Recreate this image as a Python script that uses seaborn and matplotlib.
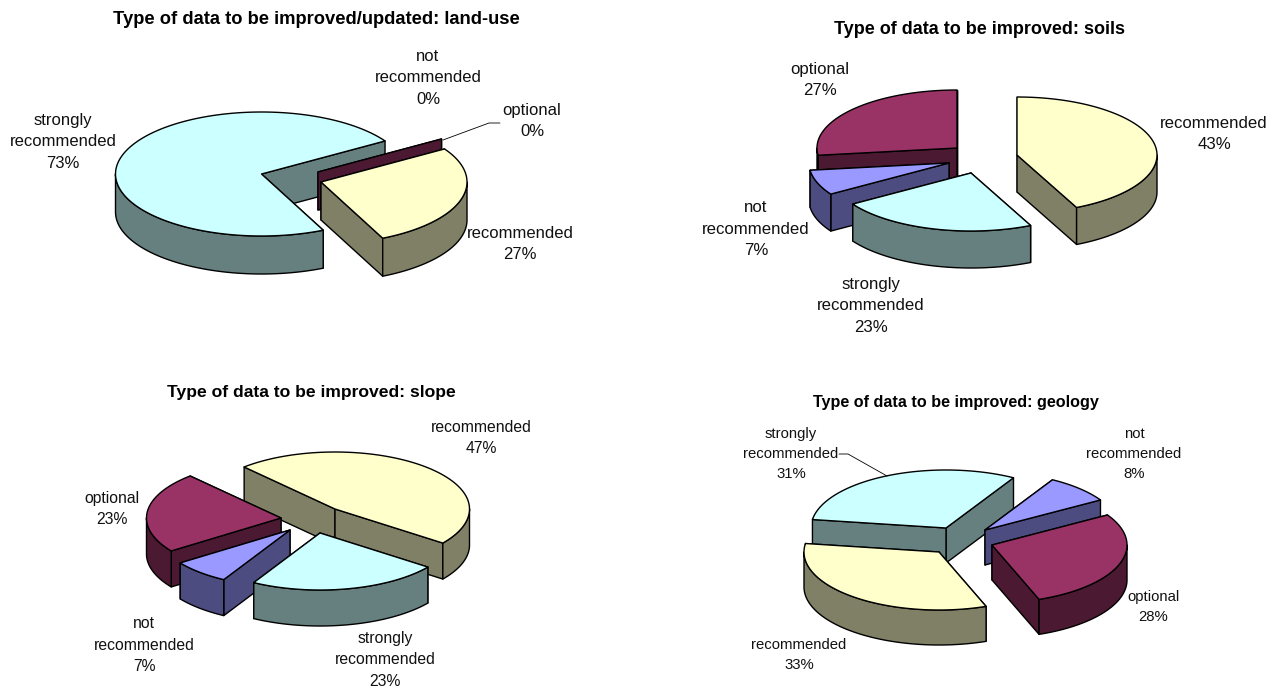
import numpy as np
import matplotlib
matplotlib.use("Agg")
import matplotlib.pyplot as plt
import seaborn as sns

sns.set_theme(style="white")
plt.rcParams["font.family"] = ["Liberation Sans", "DejaVu Sans"]

# Survey shares in percent, per data layer
categories = ["recommended", "strongly recommended", "not recommended", "optional"]
landuse_values = [27, 73, 0, 0]
soils_values = [43, 23, 7, 27]
slope_values = [47, 23, 7, 23]
geology_values = [33, 31, 8, 28]

top_colors = sns.color_palette(["#FFFFCC", "#CCFFFF", "#9999FF", "#993366"])
side_colors = sns.color_palette(["#808066", "#668080", "#4C4C80", "#4C1933"])

wrapped = {
    "recommended": "recommended",
    "strongly recommended": "strongly\nrecommended",
    "not recommended": "not\nrecommended",
    "optional": "optional",
}

# Layout of each pie: title, ellipse radii, rim height, start angle (clockwise from
# 12 o'clock, at the first category), slice apex positions and back-to-front order.
panels = [
    dict(title="Type of data to be improved/updated: land-use", values=landuse_values,
         title_xy=(316, 20), title_size=13.2, rx=146, ry=62, rim=38, start=57.8,
         apex=[(321, 182), (261.5, 174), (318, 172), (318, 172)],
         paint=[1, 3, 0], label_size=12.0, spacing=1.58,
         labels=[(520, 244), (63, 142), (428, 78), (532, 121)]),
    dict(title="Type of data to be improved: soils", values=soils_values,
         title_xy=(980, 30), title_size=13.0, rx=140, ry=58, rim=37, start=0.0,
         apex=[(1017, 155), (971, 173), (949, 163), (957, 148)],
         paint=[3, 2, 1, 0], label_size=12.1, spacing=1.57,
         labels=[(1214, 134), (871, 306), (756, 229), (820, 80)]),
    dict(title="Type of data to be improved: slope", values=slope_values,
         title_xy=(311, 392), title_size=12.6, rx=134.5, ry=57, rim=36, start=-42.5,
         apex=[(335, 509), (320, 533), (290, 530), (281, 518)],
         paint=[0, 3, 2, 1], label_size=11.3, spacing=1.56,
         labels=[(481, 438), (385, 660), (144, 645), (112, 509)]),
    dict(title="Type of data to be improved: geology", values=geology_values,
         title_xy=(956, 403), title_size=11.6, rx=135, ry=58, rim=35, start=159.6,
         apex=[(939, 552), (946, 528), (985, 530), (992, 545)],
         paint=[1, 2, 3, 0], label_size=10.7, spacing=1.58,
         labels=[(799, 655), (791, 454), (1134, 454), (1153, 607)]),
]

fig = plt.figure(figsize=(12.72, 6.88), dpi=100, facecolor="white")
ax = fig.add_axes([0, 0, 1, 1])
ax.set_xlim(0, 1272)
ax.set_ylim(688, 0)
ax.axis("off")


def rim_point(apex, rx, ry, theta):
    rad = np.radians(theta)
    return apex[0] + rx * np.sin(rad), apex[1] - ry * np.cos(rad)


def draw_slice(apex, a0, a1, rx, ry, rim, top, side):
    style = dict(edgecolor="black", linewidth=1.0, joinstyle="round")
    p0 = rim_point(apex, rx, ry, a0)
    p1 = rim_point(apex, rx, ry, a1)

    # Radial walls, rear one first
    for p in sorted([p0, p1], key=lambda q: q[1]):
        ax.fill([apex[0], p[0], p[0], apex[0]],
                [apex[1], p[1], p[1] + rim, apex[1] + rim], facecolor=side, **style)

    if a1 - a0 < 1e-6:
        return

    # Curved outer wall, only where it faces the viewer
    for turn in range(-1, 3):
        lo = max(a0, 90 + 360 * turn)
        hi = min(a1, 270 + 360 * turn)
        if hi > lo:
            t = np.linspace(lo, hi, 80)
            xs, ys = rim_point(apex, rx, ry, t)
            ax.fill(np.r_[xs, xs[::-1]], np.r_[ys, ys[::-1] + rim], facecolor=side, **style)

    # Top face
    t = np.linspace(a0, a1, 160)
    xs, ys = rim_point(apex, rx, ry, t)
    ax.fill(np.r_[apex[0], xs], np.r_[apex[1], ys], facecolor=top, **style)


for panel in panels:
    values = panel["values"]
    spans = np.array(values) * 3.6
    starts = panel["start"] + np.r_[0, np.cumsum(spans)[:-1]]
    for i in panel["paint"]:
        draw_slice(panel["apex"][i], starts[i], starts[i] + spans[i],
                   panel["rx"], panel["ry"], panel["rim"], top_colors[i], side_colors[i])
    ax.text(*panel["title_xy"], panel["title"], ha="center", va="center",
            fontsize=panel["title_size"], fontweight="bold", color="black")
    for name, val, pos in zip(categories, values, panel["labels"]):
        ax.text(*pos, f"{wrapped[name]}\n{val}%", ha="center", va="center", multialignment="center",
                fontsize=panel["label_size"], linespacing=panel["spacing"], color="#111111")

# Leader lines for labels set away from their slices
ax.plot([443, 489, 500], [140, 123, 123], color="black", lw=0.6)
ax.plot([839, 848, 887], [454, 454, 476], color="black", lw=0.6)

fig.savefig("out.png", dpi=100, facecolor="white")
